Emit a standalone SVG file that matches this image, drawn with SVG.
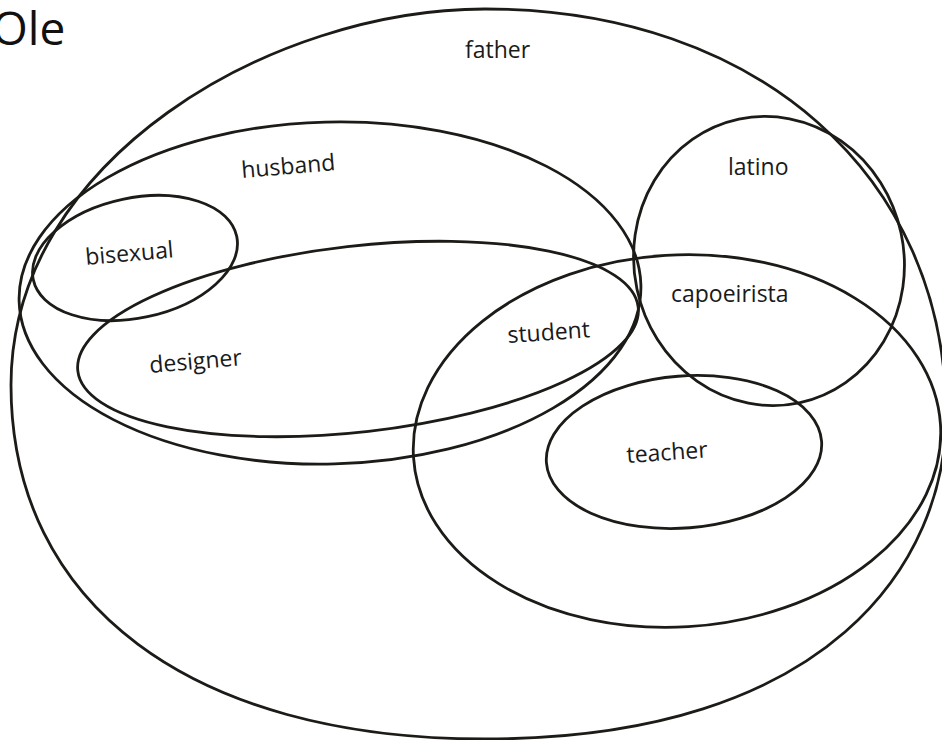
<svg xmlns="http://www.w3.org/2000/svg" width="942" height="740" viewBox="0 0 942 740">
  <style>
    .set { fill: none; stroke: #1d1b17; stroke-width: 2.8; }
    .lbl { font-family: "Open Sans", "Liberation Sans", sans-serif; font-size: 23px; fill: #1a1a1a; }
    .title { font-family: "Open Sans", "Liberation Sans", sans-serif; font-size: 46px; fill: #111; }
  </style>
  <rect width="942" height="740" fill="#fff"/>

  <!-- title sits against the left edge, its first letter partly off-canvas -->
  <text class="title" x="-8" y="45">Ole</text>

  <!-- outer set: slightly egg-shaped loop, runs past the right edge -->
  <g id="father">
    <path class="set" d="M11,385 C11,159 272,9 485,9 C757,9 946,175.5 946,415 C946,561 831,739 485,739 C191,739 11,604 11,385 Z"/>
    <text class="lbl" x="465" y="58">father</text>
  </g>

  <g id="husband">
    <ellipse class="set" cx="330" cy="293" rx="311" ry="171" transform="rotate(-1.5 330 293)"/>
    <text class="lbl" x="242" y="178" transform="rotate(-4.8 242 178)">husband</text>
  </g>

  <g id="bisexual">
    <ellipse class="set" cx="135" cy="258" rx="104" ry="60" transform="rotate(-12 135 258)"/>
    <text class="lbl" x="86" y="265" transform="rotate(-5 86 265)">bisexual</text>
  </g>

  <g id="designer">
    <ellipse class="set" cx="358" cy="339" rx="282" ry="93" transform="rotate(-6.5 358 339)"/>
    <text class="lbl" x="150" y="373" transform="rotate(-4.8 150 373)">designer</text>
  </g>

  <g id="student">
    <ellipse class="set" cx="677" cy="441" rx="264" ry="186" transform="rotate(-3.5 677 441)"/>
    <text class="lbl" x="508" y="343" transform="rotate(-4 508 343)">student</text>
  </g>

  <g id="latino">
    <ellipse class="set" cx="769" cy="261" rx="135" ry="145" transform="rotate(-12 769 261)"/>
    <text class="lbl" x="728" y="175">latino</text>
  </g>

  <g id="capoeirista">
    <text class="lbl" x="671" y="302">capoeirista</text>
  </g>

  <g id="teacher">
    <ellipse class="set" cx="684" cy="452" rx="138" ry="76" transform="rotate(-4.5 684 452)"/>
    <text class="lbl" x="627" y="463" transform="rotate(-4 627 463)">teacher</text>
  </g>
</svg>
